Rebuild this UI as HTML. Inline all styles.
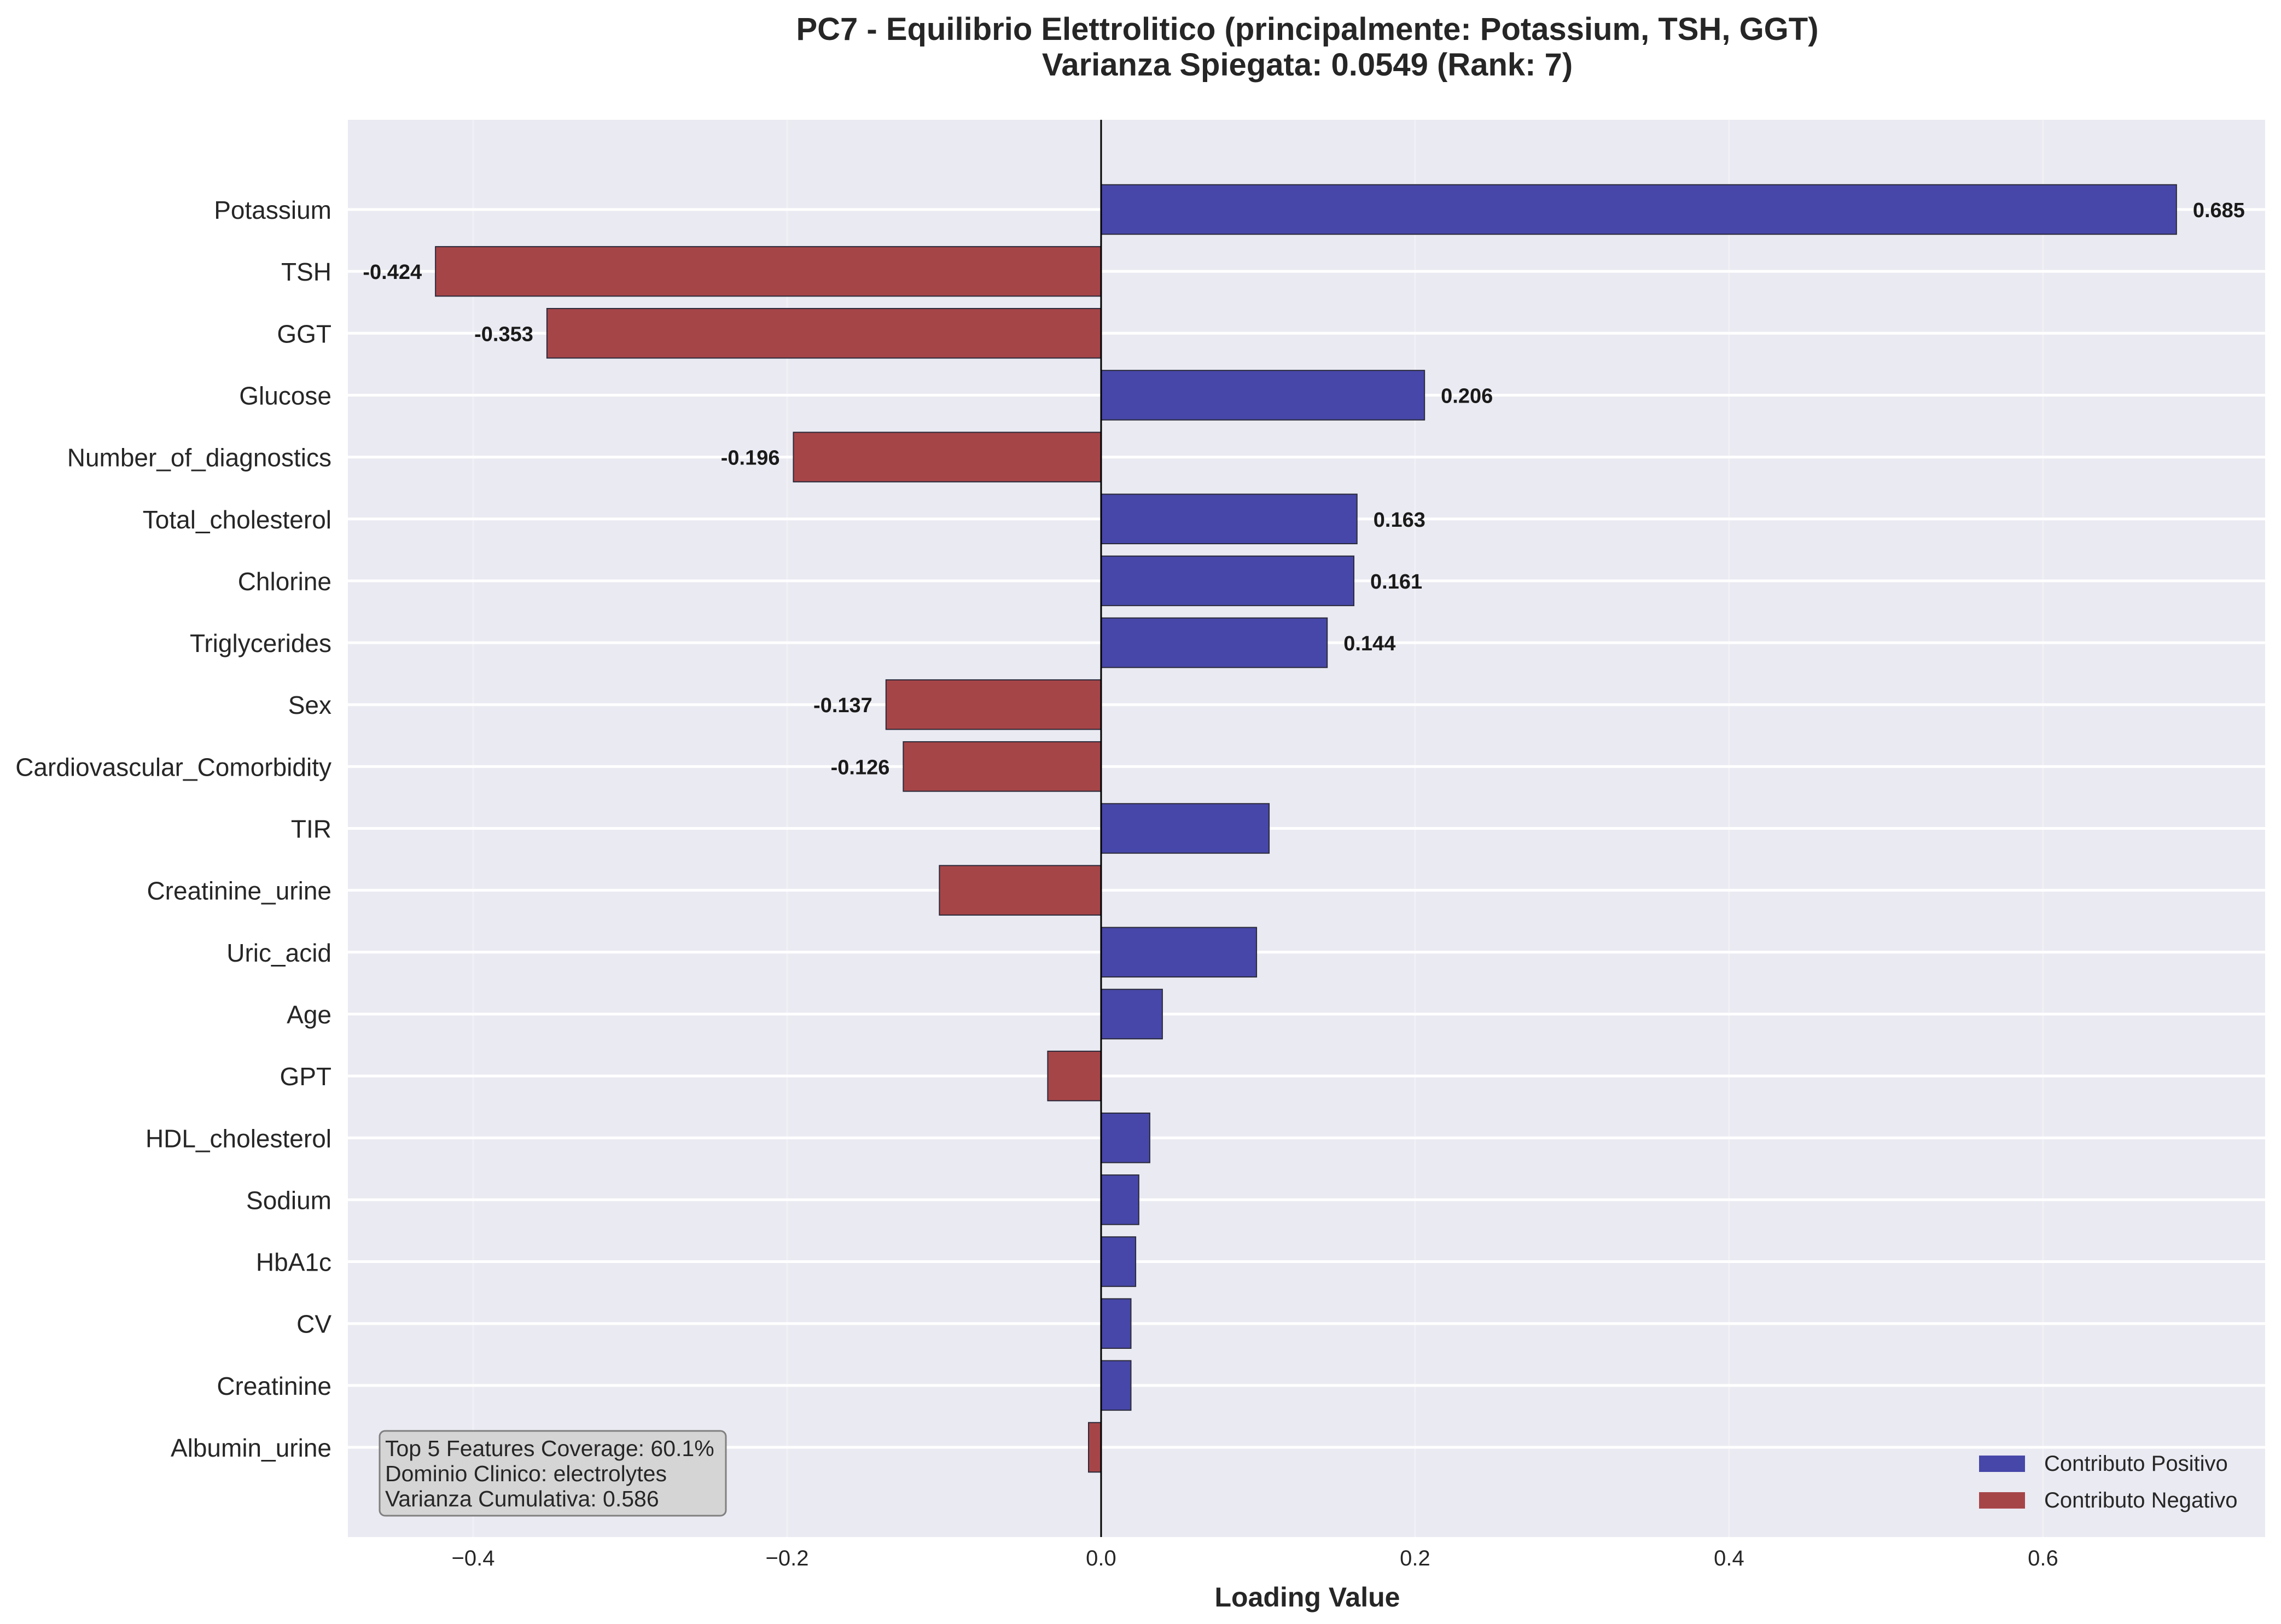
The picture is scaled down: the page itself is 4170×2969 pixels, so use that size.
<!DOCTYPE html>
<html><head><meta charset="utf-8"><style>
html,body{margin:0;padding:0;background:#fff}
svg{display:block;font-family:"Liberation Sans",Arial,sans-serif}
</style></head><body>
<svg id="chart" xmlns="http://www.w3.org/2000/svg" width="4170" height="2969" viewBox="0 0 4170 2969">
<rect width="4170" height="2969" fill="#fff"/>
<text x="2390" y="73" text-anchor="middle" font-size="58" font-weight="bold" fill="#262626">PC7 - Equilibrio Elettrolitico (principalmente: Potassium, TSH, GGT)</text>
<text x="2390" y="138" text-anchor="middle" font-size="58" font-weight="bold" fill="#262626">Varianza Spiegata: 0.0549 (Rank: 7)</text>
<rect x="636" y="219" width="3505" height="2591" fill="#eaeaf2"/>
<g id="grid"></g>
<g id="bars"></g>
<g id="labels"></g>
<g id="xticks"></g>
<text x="2390" y="2937" text-anchor="middle" font-size="50" font-weight="bold" fill="#262626">Loading Value</text>
<g>
<rect x="694" y="2616" width="633" height="155" rx="10" fill="#d5d5d5" stroke="#808080" stroke-width="3"/>
<text x="704" y="2662" font-size="41" fill="#262626">Top 5 Features Coverage: 60.1%</text>
<text x="704" y="2708" font-size="41" fill="#262626">Dominio Clinico: electrolytes</text>
<text x="704" y="2754" font-size="41" fill="#262626">Varianza Cumulativa: 0.586</text>
</g>
<g>
<rect x="3618" y="2661" width="84" height="30" fill="#4747a9"/>
<text x="3737" y="2689" font-size="40" fill="#262626">Contributo Positivo</text>
<rect x="3618" y="2728" width="84" height="30" fill="#a64548"/>
<text x="3737" y="2756" font-size="40" fill="#262626">Contributo Negativo</text>
</g>
</svg>
<script>
const categories = ["Potassium","TSH","GGT","Glucose","Number_of_diagnostics","Total_cholesterol","Chlorine","Triglycerides","Sex","Cardiovascular_Comorbidity","TIR","Creatinine_urine","Uric_acid","Age","GPT","HDL_cholesterol","Sodium","HbA1c","CV","Creatinine","Albumin_urine"];
const loadings = [0.685,-0.424,-0.353,0.206,-0.196,0.163,0.161,0.144,-0.137,-0.126,0.107,-0.103,0.099,0.039,-0.034,0.031,0.024,0.022,0.019,0.019,-0.008];
const labeledCount = 10;
const xTicks = [-0.4,-0.2,0.0,0.2,0.4,0.6];

const NS = "http://www.w3.org/2000/svg";
const PL = 636, PR = 4141, PT = 219, PB = 2810;
const XMIN = -0.4798, XMAX = 0.7415;
function xs(v){ return PL + (v - XMIN) / (XMAX - XMIN) * (PR - PL); }
const Y0 = 383, STEP = 113.15;
function ys(i){ return Y0 + i * STEP; }
function mk(tag, attrs, parent){
  const e = document.createElementNS(NS, tag);
  for (const k in attrs) e.setAttribute(k, attrs[k]);
  parent.appendChild(e); return e;
}
const grid = document.getElementById('grid');
const bars = document.getElementById('bars');
const labels = document.getElementById('labels');
const xt = document.getElementById('xticks');

xTicks.forEach(t => {
  const l = mk('line', {x1: xs(t), x2: xs(t), y1: PT, y2: PB, stroke: '#f0f0f5', 'stroke-width': 3}, grid);
  
  
  const tx = mk('text', {x: xs(t), y: 2862, 'text-anchor': 'middle', 'font-size': 40, fill: '#262626'}, xt);
  tx.textContent = (t < 0 ? '\u2212' : '') + Math.abs(t).toFixed(1);
  
  
});
categories.forEach((c, i) => {
  const l = mk('line', {x1: PL, x2: PR, y1: ys(i), y2: ys(i), stroke: '#ffffff', 'stroke-width': 5}, grid);
  
  
  const t = mk('text', {x: 606, y: ys(i) + 17, 'text-anchor': 'end', 'font-size': 46, fill: '#262626'}, labels);
  t.textContent = c;
  
  
});
const bh = STEP * 0.8;
loadings.forEach((v, i) => {
  const x0 = xs(0), x1 = xs(v);
  const r = mk('rect', {x: Math.min(x0, x1), y: ys(i) - bh/2, width: Math.abs(x1 - x0), height: bh,
    fill: v >= 0 ? '#4747a9' : '#a64548', stroke: '#2a2a3a', 'stroke-width': 2}, bars);
  
  
  if (i < labeledCount) {
    const t = mk('text', {x: v >= 0 ? x1 + 30 : x1 - 25, y: ys(i) + 14, 'text-anchor': v >= 0 ? 'start' : 'end',
      'font-size': 38, 'font-weight': 'bold', fill: '#1a1a1a'}, labels);
    t.textContent = v.toFixed(3);
    
    
  }
});
const z = mk('line', {x1: xs(0), x2: xs(0), y1: PT, y2: PB, stroke: '#000', 'stroke-width': 3}, bars);


</script>
</body></html>
